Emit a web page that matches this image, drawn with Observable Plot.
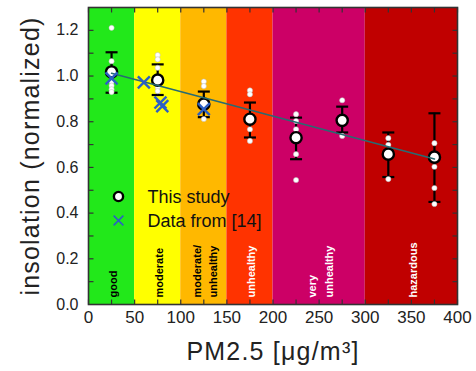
<!DOCTYPE html>
<html>
<head>
<meta charset="utf-8">
<script src="https://cdn.jsdelivr.net/npm/d3@7"></script>
<script src="https://cdn.jsdelivr.net/npm/@observablehq/plot@0.6"></script>
<style>
  html, body { margin: 0; padding: 0; background: #fff; }
  #chart svg { display: block; }
</style>
</head>
<body>
<div id="chart"></div>
<script>
// ---- data ----
const bandLo = [0, 50, 100, 150, 200, 300];
const bandHi = [50, 100, 150, 200, 300, 400];
const bandNames = ["good", "moderate", "moderate/\nunhealthy", "unhealthy", "very\nunhealthy", "hazardous"];
const bandColors = ["#22e81a", "#ffff00", "#ffb800", "#ff3300", "#cc0066", "#c00000"];
const bandTextColors = ["#000", "#000", "#000", "#fff", "#fff", "#fff"];

const pm = [25, 75, 125, 175, 225, 275, 325, 375];
const meanIns = [1.018, 0.982, 0.877, 0.811, 0.730, 0.806, 0.658, 0.645];
const errLo = [0.927, 0.917, 0.820, 0.731, 0.636, 0.753, 0.558, 0.449];
const errHi = [1.104, 1.051, 0.932, 0.884, 0.818, 0.866, 0.753, 0.837];
const singles = [
  [1.211, 1.065, 0.975, 0.958, 0.942, 0.930],
  [1.092, 1.073, 1.036, 0.952, 0.934],
  [0.976, 0.956, 0.812],
  [0.937, 0.920, 0.767, 0.716],
  [0.833, 0.803, 0.767, 0.658, 0.545],
  [0.894, 0.738],
  [0.728, 0.699, 0.549],
  [0.706, 0.603, 0.510, 0.440]
];

const litPM = [25, 60, 78, 80, 125];
const litIns = [0.990, 0.972, 0.884, 0.868, 0.855];

const fitPM = [25, 375];
const fitIns = [1.012, 0.637];

const xTicks = [0, 25, 50, 75, 100, 125, 150, 175, 200, 225, 250, 275, 300, 325, 350, 375, 400];
const xTickLabels = [0, 50, 100, 150, 200, 250, 300, 350, 400];
const yTicks = [0.1, 0.2, 0.3, 0.4, 0.5, 0.6, 0.7, 0.8, 0.9, 1.0, 1.1, 1.2];
const yTickLabels = [0.0, 0.2, 0.4, 0.6, 0.8, 1.0, 1.2];

const legendLabels = ["This study", "Data from [14]"];
const xTitle = "PM2.5 [\u03bcg/m\u00b3]";
const yTitle = "insolation (normalized)";

// ---- tables ----
const bands = bandLo.map((lo, i) => ({lo, hi: bandHi[i], mid: (lo + bandHi[i]) / 2, name: bandNames[i], color: bandColors[i], tcolor: bandTextColors[i]}));
const study = pm.map((x, i) => ({x, mean: meanIns[i], lo: errLo[i], hi: errHi[i]}));
const caps = study.flatMap(d => [{x: d.x, y: d.lo}, {x: d.x, y: d.hi}]);
const singleDots = pm.flatMap((x, i) => singles[i].map(y => ({x, y})));
const lit = litPM.map((x, i) => ({x, y: litIns[i]}));
const fit = fitPM.map((x, i) => ({x, y: fitIns[i]}));

// ---- custom symbols ----
const seg = (dx, dy) => ({draw(ctx, size) { const l = Math.sqrt(size / Math.PI); ctx.moveTo(0, 0); ctx.lineTo(dx * l, dy * l); }});
const capSym = {draw(ctx, size) { const l = Math.sqrt(size / Math.PI); ctx.moveTo(-l, 0); ctx.lineTo(l, 0); }};

const font = "'Liberation Sans', Arial, Helvetica, sans-serif";
const frameCol = "#333";

const chart = Plot.plot({
  width: 476,
  height: 371,
  marginLeft: 88,
  marginRight: 19,
  marginTop: 7,
  marginBottom: 67,
  style: {fontFamily: font, background: "#fff"},
  x: {domain: [0, 400]},
  y: {domain: [0, 1.3]},
  marks: [
    Plot.rect(bands, {x1: "lo", x2: "hi", fill: "color"}),
    Plot.text(bands, {x: "mid", text: "name", frameAnchor: "bottom", dy: -7, rotate: -90, textAnchor: "start", lineAnchor: "middle", lineHeight: 1.5, fontSize: 11, fontWeight: "bold", fill: "tcolor"}),
    Plot.ruleX(study, {x: "x", y1: "lo", y2: "hi", stroke: "#000", strokeWidth: 2.2}),
    Plot.dot(caps, {x: "x", y: "y", symbol: capSym, r: 6, fill: "none", stroke: "#000", strokeWidth: 2.2}),
    Plot.dot(singleDots, {x: "x", y: "y", r: 2.6, fill: "#fff", stroke: "#bbb", strokeWidth: 0.5}),
    Plot.dot(study, {x: "x", y: "mean", r: 5.6, fill: "#fff", stroke: "#000", strokeWidth: 2.4}),
    Plot.line(fit, {x: "x", y: "y", stroke: "#276b72", strokeWidth: 1.6}),
    Plot.dot(lit, {x: "x", y: "y", symbol: "times", r: 5.5, stroke: "#2b5fc4", strokeWidth: 2.4}),
    // legend
    Plot.dot([legendLabels[0]], {frameAnchor: "top-left", dx: 30, dy: 189, r: 4.6, fill: "#fff", stroke: "#000", strokeWidth: 2.4}),
    Plot.dot([legendLabels[1]], {frameAnchor: "top-left", dx: 30, dy: 213, symbol: "times", r: 4.5, stroke: "#2b5fc4", strokeWidth: 1.5}),
    Plot.text([legendLabels[0]], {frameAnchor: "top-left", dx: 59, dy: 190, text: d => d, textAnchor: "start", lineAnchor: "middle", fontSize: 18, fill: "#111"}),
    Plot.text([legendLabels[1]], {frameAnchor: "top-left", dx: 59, dy: 214, text: d => d, textAnchor: "start", lineAnchor: "middle", fontSize: 18, fill: "#111"}),
    // inward ticks
    Plot.dot(xTicks, {x: d => d, frameAnchor: "bottom", symbol: seg(0, -1), r: 5, fill: "none", stroke: frameCol, strokeWidth: 1.2}),
    Plot.dot(xTicks, {x: d => d, frameAnchor: "top", symbol: seg(0, 1), r: 5, fill: "none", stroke: frameCol, strokeWidth: 1.2}),
    Plot.dot(yTicks, {y: d => d, frameAnchor: "left", symbol: seg(1, 0), r: 5, fill: "none", stroke: frameCol, strokeWidth: 1.2}),
    Plot.dot(yTicks, {y: d => d, frameAnchor: "right", symbol: seg(-1, 0), r: 5, fill: "none", stroke: frameCol, strokeWidth: 1.2}),
    Plot.frame({stroke: frameCol, strokeWidth: 1.6}),
    // axes labels
    Plot.axisX({ticks: xTickLabels, tickSize: 0, tickPadding: 6, fontSize: 17, label: null, fill: "#222", tickFormat: d => String(d)}),
    Plot.axisY({ticks: yTickLabels, tickSize: 0, tickPadding: 10, fontSize: 16, label: null, fill: "#222", tickFormat: d3.format(".1f")}),
    Plot.text([xTitle], {frameAnchor: "bottom", dy: 47, text: d => d, fontSize: 25, textAnchor: "middle", lineAnchor: "middle", fill: "#222"}),
    Plot.text([yTitle], {frameAnchor: "left", dx: -58, rotate: -90, text: d => d, fontSize: 25, textAnchor: "middle", lineAnchor: "middle", fill: "#222"})
  ]
});
// widen the two axis titles a little, as in the reference
d3.select(chart).selectAll("text")
  .filter(function () { return this.textContent === xTitle || this.textContent === yTitle; })
  .attr("letter-spacing", "1.2px");
document.getElementById("chart").appendChild(chart);
</script>
</body>
</html>
